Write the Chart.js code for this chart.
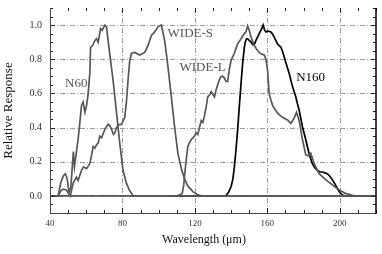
<!DOCTYPE html>
<html>
<head>
<meta charset="utf-8">
<script src="https://cdn.jsdelivr.net/npm/chart.js@4"></script>
<style>
body { margin: 0; background: #fff; }
canvas { display: block; }
</style>
</head>
<body>
<canvas id="myChart" width="382" height="254"></canvas>
<script>
// filter response curves
const n60X = [40, 44.5, 46, 47.5, 48.5, 49.5, 50.5, 51.5, 52.5, 52.9, 53.5, 54.5, 55.5, 56.2, 57.4, 58.3, 59.3, 60.2, 61.1, 62, 62.4, 63.5, 64.8, 65.7, 66.6, 67.9, 68.8, 70.3, 71.2, 73, 74.8, 76.7, 78.5, 80.3, 82.2, 84, 86, 220];
const n60Y = [0, 0, 0.08, 0.12, 0.13, 0.1, 0.02, 0.05, 0.2, 0.26, 0.17, 0.25, 0.33, 0.4, 0.53, 0.55, 0.49, 0.53, 0.6, 0.72, 0.87, 0.88, 0.91, 0.92, 0.9, 0.98, 0.97, 1.0, 0.99, 0.83, 0.68, 0.49, 0.31, 0.15, 0.075, 0.03, 0, 0];

const wideSX = [40, 44.5, 46, 47.3, 49, 50.5, 51.2, 52.8, 54.6, 55.5, 57.4, 58.5, 60.2, 62, 63, 63.8, 64.8, 65.7, 66.6, 67.5, 68.5, 70.3, 72.1, 73, 74, 75, 75.8, 76.7, 77.6, 79.5, 81.3, 82.2, 83.1, 84, 85, 86.8, 89.5, 92.3, 94.1, 96, 97.8, 99.6, 101.5, 103.3, 105.1, 107, 108.8, 110.6, 112.5, 114.3, 116, 118.9, 121, 123.5, 220];
const wideSY = [0, 0, 0.03, 0.04, 0.035, 0.01, 0, 0.075, 0.11, 0.09, 0.15, 0.17, 0.16, 0.19, 0.24, 0.29, 0.28, 0.3, 0.31, 0.35, 0.34, 0.39, 0.42, 0.41, 0.39, 0.36, 0.37, 0.4, 0.415, 0.42, 0.46, 0.55, 0.68, 0.79, 0.835, 0.84, 0.825, 0.84, 0.88, 0.94, 0.96, 0.99, 1.0, 0.91, 0.76, 0.58, 0.405, 0.25, 0.16, 0.1, 0.06, 0.025, 0.01, 0, 0];

const wideLX = [40, 110, 111.5, 113, 113.8, 114.5, 115.3, 116.1, 117, 118, 119.8, 120.7, 121.6, 122.5, 123.5, 124.4, 125.3, 126.2, 127.1, 128, 129, 129.9, 130.8, 131.7, 132.6, 133.5, 134.5, 135.4, 136.3, 137.2, 138.1, 139, 140, 141.8, 143.6, 145.5, 147.3, 148.2, 149.1, 150, 151, 152.8, 154, 155.5, 157, 158.3, 159.2, 160.1, 161, 162, 162.9, 164, 165.6, 168.4, 171.1, 173, 174.8, 176.1, 177.6, 179.4, 181.2, 182.5, 184, 185.8, 188.6, 192.2, 195.9, 199.6, 203.2, 207, 209, 220];
const wideLY = [0, 0, 0.005, 0.015, 0.06, 0.14, 0.22, 0.29, 0.31, 0.33, 0.35, 0.37, 0.36, 0.4, 0.44, 0.43, 0.47, 0.52, 0.58, 0.59, 0.61, 0.595, 0.58, 0.62, 0.65, 0.68, 0.7, 0.7, 0.69, 0.67, 0.67, 0.74, 0.795, 0.835, 0.89, 0.92, 0.95, 0.96, 0.995, 0.97, 0.93, 0.88, 0.86, 0.84, 0.83, 0.825, 0.8, 0.74, 0.6, 0.56, 0.53, 0.51, 0.485, 0.46, 0.445, 0.425, 0.455, 0.49, 0.44, 0.33, 0.24, 0.235, 0.25, 0.19, 0.13, 0.095, 0.065, 0.035, 0.015, 0.003, 0, 0];

const n160X = [105, 137, 138.5, 140, 141, 141.8, 142.7, 143.6, 144.5, 145.5, 146.4, 147.3, 147.8, 148.5, 149.1, 150, 151, 152, 152.8, 153.7, 154.6, 155.5, 156.5, 157.7, 158.5, 159.2, 160.5, 162, 163, 163.8, 165.6, 166.5, 167.5, 168.4, 169.3, 170.5, 172, 173.9, 175.7, 176.6, 177.6, 179.4, 181.2, 183, 184.8, 186.2, 187.6, 189, 190.4, 191.8, 193.1, 194.5, 195.9, 197.3, 198.6, 200, 201.4, 203, 220];
const n160Y = [0, 0, 0.02, 0.055, 0.1, 0.17, 0.27, 0.385, 0.52, 0.66, 0.78, 0.87, 0.9, 0.92, 0.92, 0.91, 0.9, 0.885, 0.885, 0.91, 0.93, 0.95, 0.97, 1.0, 0.97, 0.96, 0.965, 0.96, 0.945, 0.93, 0.89, 0.88, 0.87, 0.845, 0.815, 0.77, 0.72, 0.64, 0.58, 0.54, 0.5, 0.405, 0.33, 0.25, 0.19, 0.165, 0.15, 0.14, 0.14, 0.135, 0.13, 0.115, 0.095, 0.07, 0.045, 0.02, 0.005, 0, 0];

const xGrid = [80, 120, 160, 200];
const yGrid = [0, 0.2, 0.4, 0.6, 0.8, 1.0];
const curveLabels = [
  {text: 'N60', x: 48.3, y: 0.66, color: '#555'},
  {text: 'WIDE-S', x: 104.9, y: 0.953, color: '#555'},
  {text: 'WIDE-L', x: 111.5, y: 0.75, color: '#555'},
  {text: 'N160', x: 175.9, y: 0.69, color: '#000'}
];

function pts(xs, ys) {
  return xs.map((v, i) => ({x: v, y: ys[i]}));
}

function isMajorY(v) {
  const r = Math.round(v * 100) / 100;
  return r >= 0 && r <= 1 && Math.abs(r * 5 - Math.round(r * 5)) < 1e-6;
}

const decor = {
  id: 'decor',
  beforeDatasetsDraw(chart) {
    const {ctx, chartArea: a, scales: {x, y}} = chart;
    ctx.save();
    ctx.strokeStyle = '#9c9c9c';
    ctx.lineWidth = 1;
    ctx.setLineDash([5, 2, 1, 2]);
    xGrid.forEach(v => {
      const px = Math.round(x.getPixelForValue(v)) + 0.5;
      ctx.beginPath(); ctx.moveTo(px, a.top); ctx.lineTo(px, a.bottom); ctx.stroke();
    });
    yGrid.forEach(v => {
      const py = Math.round(y.getPixelForValue(v)) + 0.5;
      ctx.beginPath(); ctx.moveTo(a.left, py); ctx.lineTo(a.right, py); ctx.stroke();
    });
    ctx.restore();
  },
  afterDraw(chart) {
    const {ctx, chartArea: a, scales: {x, y}} = chart;
    ctx.save();
    // inward ticks
    ctx.strokeStyle = '#222';
    ctx.lineWidth = 1;
    x.ticks.forEach(t => {
      const px = Math.round(x.getPixelForValue(t.value)) + 0.5;
      const len = (t.value % 40 === 0) ? 5 : 3;
      ctx.beginPath(); ctx.moveTo(px, a.bottom); ctx.lineTo(px, a.bottom - len); ctx.stroke();
      ctx.beginPath(); ctx.moveTo(px, a.top); ctx.lineTo(px, a.top + len); ctx.stroke();
    });
    y.ticks.forEach(t => {
      const py = Math.round(y.getPixelForValue(t.value)) + 0.5;
      const len = isMajorY(t.value) ? 5 : 3;
      ctx.beginPath(); ctx.moveTo(a.left, py); ctx.lineTo(a.left + len, py); ctx.stroke();
      ctx.beginPath(); ctx.moveTo(a.right, py); ctx.lineTo(a.right - len, py); ctx.stroke();
    });
    // frame: left + bottom grey, right black
    ctx.strokeStyle = '#444';
    ctx.beginPath();
    ctx.moveTo(a.left + 0.5, a.top); ctx.lineTo(a.left + 0.5, a.bottom + 0.5); ctx.lineTo(a.right, a.bottom + 0.5);
    ctx.stroke();
    ctx.strokeStyle = '#000';
    ctx.lineWidth = 1.5;
    ctx.beginPath(); ctx.moveTo(a.right, a.top); ctx.lineTo(a.right, a.bottom + 1); ctx.stroke();
    // curve labels
    ctx.font = '13px "Liberation Serif"';
    ctx.textBaseline = 'middle';
    ctx.textAlign = 'left';
    curveLabels.forEach(l => {
      ctx.fillStyle = l.color;
      ctx.fillText(l.text, x.getPixelForValue(l.x), y.getPixelForValue(l.y));
    });
    // x axis title
    ctx.fillStyle = '#111';
    ctx.font = '12px "Liberation Serif"';
    ctx.textAlign = 'center';
    ctx.fillText('Wavelength (\u03bcm)', 204, 240);
    ctx.restore();
  }
};

Chart.defaults.font.family = '"Liberation Serif", serif';
Chart.defaults.color = '#333';

const lineStyle = {showLine: true, pointRadius: 0, borderWidth: 1.7, tension: 0, fill: false};

const ctx = document.getElementById('myChart');
const myChart = new Chart(ctx, {
  type: 'scatter',
  data: {
    datasets: [
      {...lineStyle, label: 'N60', data: pts(n60X, n60Y), borderColor: '#575757'},
      {...lineStyle, label: 'WIDE-S', data: pts(wideSX, wideSY), borderColor: '#575757'},
      {...lineStyle, label: 'WIDE-L', data: pts(wideLX, wideLY), borderColor: '#575757'},
      {...lineStyle, label: 'N160', data: pts(n160X, n160Y), borderColor: '#000'}
    ]
  },
  options: {
    responsive: false,
    animation: false,
    layout: {padding: {left: 0, right: 6, top: 8, bottom: 0}},
    scales: {
      x: {
        type: 'linear', min: 40, max: 220,
        afterFit: s => { s.height = 41; s.paddingLeft = 0; s.paddingRight = 0; },
        grid: {display: false, drawTicks: false},
        border: {display: false},
        ticks: {
          stepSize: 10, autoSkip: false, maxRotation: 0, padding: 5,
          font: {size: 9},
          callback: v => (v % 40 === 0 && v <= 200) ? String(v) : ''
        }
      },
      y: {
        min: -0.1, max: 1.1,
        afterFit: s => { s.width = 50; s.paddingTop = 0; s.paddingBottom = 0; },
        grid: {display: false, drawTicks: false},
        border: {display: false},
        ticks: {
          stepSize: 0.05, autoSkip: false, padding: 8,
          font: {size: 10},
          callback: v => isMajorY(v) ? (Math.round(v * 10) / 10).toFixed(1) : ''
        },
        title: {display: true, text: 'Relative Response', font: {size: 13}, color: '#111', padding: {top: 1, bottom: 0}}
      }
    },
    plugins: {
      legend: {display: false},
      tooltip: {enabled: false}
    }
  },
  plugins: [decor]
});
</script>
</body>
</html>
